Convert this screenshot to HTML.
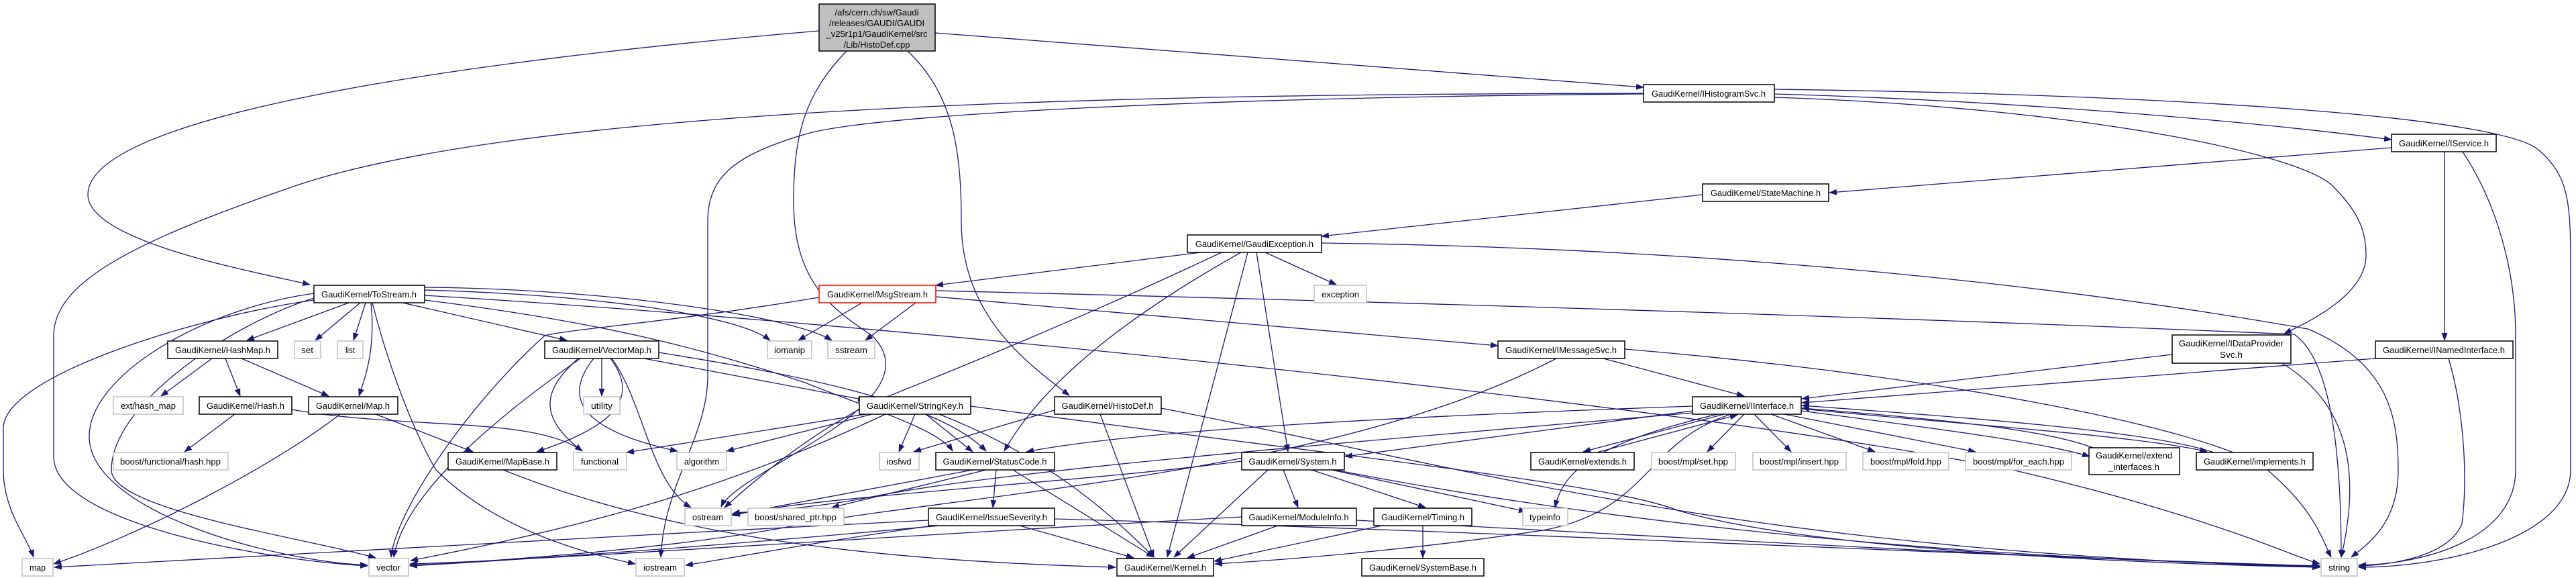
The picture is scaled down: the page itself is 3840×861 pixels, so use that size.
<!DOCTYPE html>
<html><head><meta charset="utf-8"><style>
html,body{margin:0;padding:0;background:#fff;}
svg{display:block;}
text{font-family:"Liberation Sans",sans-serif;font-size:13px;fill:#000;}
.e{fill:none;stroke:#191970;stroke-width:1.3;marker-end:url(#a);}
.n{fill:#fff;stroke:#000;stroke-width:1.5;}
.g{fill:#fff;stroke:#bfbfbf;stroke-width:1.5;}
</style></head><body>
<svg width="3840" height="861" viewBox="0 0 3840 861" xmlns="http://www.w3.org/2000/svg">
<defs><marker id="a" markerUnits="userSpaceOnUse" markerWidth="12" markerHeight="9" refX="11" refY="4.5" orient="auto"><path d="M0,0 L12,4.5 L0,9 z" fill="#191970"/></marker></defs>
<g>
<path class="e" d="M1221,46 C700,90 131,170 131,290 C131,360 380,405 462,424"/>
<path class="e" d="M1353,76 C1420,140 1433,220 1433,330 C1433,470 1530,540 1594,589"/>
<path class="e" d="M1394,49 L2450,130"/>
<path class="e" d="M1262,76 C1200,140 1183,200 1183,300 C1183,420 1240,460 1300,500 C1400,600 1100,700 1075,755"/>
<path class="e" d="M2450,139 C1800,140 800,150 431,280 C200,360 80,420 80,500 L80,680 C80,780 400,835 548,843"/>
<path class="e" d="M2450,140 C1800,145 1300,170 1200,200 C1100,230 1055,260 1055,330 L1055,560 C1055,650 990,720 985,830"/>
<path class="e" d="M2645,140 C3000,150 3350,180 3565,208"/>
<path class="e" d="M2645,133 C3200,140 3700,170 3780,220 C3830,260 3832,300 3832,400 L3832,700 C3832,800 3650,845 3516,845"/>
<path class="e" d="M2645,145 C3100,160 3440,230 3480,280 C3520,320 3527,350 3527,380 C3527,440 3440,480 3405,497"/>
<path class="e" d="M3565,220 L2727,287"/>
<path class="e" d="M3644,226 L3644,507"/>
<path class="e" d="M3671,226 C3720,300 3750,400 3750,500 L3750,700 C3750,800 3620,840 3516,842"/>
<path class="e" d="M3650,534 C3670,600 3680,700 3670,780 C3650,830 3560,842 3516,843"/>
<path class="e" d="M2538,290 L1970,352"/>
<path class="e" d="M1790,376 L1395,425"/>
<path class="e" d="M1886,376 L1992,424"/>
<path class="e" d="M1970,362 C2600,370 3100,430 3440,490 C3560,540 3575,620 3575,700 C3575,780 3530,810 3505,830"/>
<path class="e" d="M1850,376 C1700,460 1560,560 1497,672"/>
<path class="e" d="M1860,376 L1740,830"/>
<path class="e" d="M1873,376 L1920,673"/>
<path class="e" d="M1821,376 C1600,480 1400,560 1300,600 C1200,650 1120,720 1080,756"/>
<path class="e" d="M1395,433 C2300,455 3000,480 3420,498 C3480,540 3490,700 3490,830"/>
<path class="e" d="M1285,451 L1190,507"/>
<path class="e" d="M1365,451 L1290,507"/>
<path class="e" d="M1395,442 L2233,515"/>
<path class="e" d="M1221,443 C1000,480 850,490 812,500 C700,600 590,760 583,830"/>
<path class="e" d="M520,451 L368,507"/>
<path class="e" d="M537,451 L470,507"/>
<path class="e" d="M545,451 L527,507"/>
<path class="e" d="M553,451 C560,520 545,560 535,590"/>
<path class="e" d="M600,451 L845,507"/>
<path class="e" d="M633,432 C900,440 1100,470 1148,507"/>
<path class="e" d="M633,428 C900,430 1180,470 1240,507"/>
<path class="e" d="M468,447 C300,470 0,560 5,640 L5,700 C5,760 40,800 50,830"/>
<path class="e" d="M468,437 C300,460 133,560 133,650 C133,760 400,835 548,842"/>
<path class="e" d="M468,444 C350,480 166,600 166,700 C166,760 450,800 560,831"/>
<path class="e" d="M555,451 C580,550 620,650 650,700 C730,780 850,820 947,840"/>
<path class="e" d="M633,447 C900,480 1050,520 1200,570 C1300,610 1400,640 1420,672"/>
<path class="e" d="M633,440 C1300,480 2500,600 3000,700 C3300,770 3420,830 3458,840"/>
<path class="e" d="M316,534 L240,590"/>
<path class="e" d="M336,534 L358,590"/>
<path class="e" d="M360,534 L490,590"/>
<path class="e" d="M350,617 L275,673"/>
<path class="e" d="M435,610 C600,640 800,620 868,672"/>
<path class="e" d="M560,617 L705,673"/>
<path class="e" d="M507,617 C400,700 200,800 80,840"/>
<path class="e" d="M897,534 L897,590"/>
<path class="e" d="M862,534 C810,580 800,620 868,672"/>
<path class="e" d="M885,534 C840,590 860,640 1010,672"/>
<path class="e" d="M910,534 C960,600 900,640 800,673"/>
<path class="e" d="M865,534 C700,650 600,750 587,830"/>
<path class="e" d="M912,534 C960,600 970,720 1030,756"/>
<path class="e" d="M960,534 L1290,596"/>
<path class="e" d="M982,525 C1200,560 1400,600 1470,672"/>
<path class="e" d="M1290,617 L934,674"/>
<path class="e" d="M1300,617 L1083,672"/>
<path class="e" d="M1320,617 C1100,720 900,780 612,835"/>
<path class="e" d="M1364,617 L1340,673"/>
<path class="e" d="M1380,617 L1450,673"/>
<path class="e" d="M1400,617 C1560,680 1650,760 1720,830"/>
<path class="e" d="M1447,605 C2000,680 2400,720 2500,760 C2700,820 3200,840 3458,845"/>
<path class="e" d="M1575,610 L1362,673"/>
<path class="e" d="M1640,617 L1720,830"/>
<path class="e" d="M1731,608 C2200,700 2600,820 3458,845"/>
<path class="e" d="M2390,534 L2600,590"/>
<path class="e" d="M2422,520 C2900,560 3300,640 3380,700 C3450,760 3460,800 3475,830"/>
<path class="e" d="M2320,534 C2000,700 1500,730 1200,780 C1000,820 700,838 611,842"/>
<path class="e" d="M3238,528 L2686,594"/>
<path class="e" d="M3400,540 C3500,600 3520,700 3490,830"/>
<path class="e" d="M3541,534 L2686,600"/>
<path class="e" d="M2523,605 C2100,620 1700,640 1530,673"/>
<path class="e" d="M2523,612 L2005,680"/>
<path class="e" d="M2570,617 L2360,673"/>
<path class="e" d="M2380,674 L2590,618"/>
<path class="e" d="M2600,617 L2545,673"/>
<path class="e" d="M2615,617 L2670,673"/>
<path class="e" d="M2640,617 L2795,673"/>
<path class="e" d="M2660,617 L2945,673"/>
<path class="e" d="M2685,612 C2900,640 3050,660 3115,680"/>
<path class="e" d="M3120,667 C3050,640 2900,625 2686,608"/>
<path class="e" d="M3300,674 C3200,640 2900,620 2686,604"/>
<path class="e" d="M2686,609 C2900,630 3200,650 3290,673"/>
<path class="e" d="M2560,617 C2380,660 2330,700 2318,756"/>
<path class="e" d="M2523,615 C2000,660 1500,700 1300,740 C1200,760 1120,760 1092,765"/>
<path class="e" d="M2580,617 C2450,660 2460,760 2300,790 C2100,820 1900,835 1811,840"/>
<path class="e" d="M1450,700 L1091,767"/>
<path class="e" d="M1470,700 L1240,756"/>
<path class="e" d="M1485,700 L1480,756"/>
<path class="e" d="M1510,700 L1720,830"/>
<path class="e" d="M1913,700 L1935,756"/>
<path class="e" d="M1955,700 L2125,756"/>
<path class="e" d="M1890,700 L1750,830"/>
<path class="e" d="M1985,700 L2275,762"/>
<path class="e" d="M1990,700 C2300,760 2800,830 3458,843"/>
<path class="e" d="M1851,687 C1600,720 1200,740 1092,768"/>
<path class="e" d="M1520,783 L1690,831"/>
<path class="e" d="M1400,783 C1000,820 700,838 611,843"/>
<path class="e" d="M1384,775 C900,800 300,830 81,845"/>
<path class="e" d="M1572,773 C2200,790 3000,830 3458,843"/>
<path class="e" d="M1390,783 C1200,810 1100,830 1022,842"/>
<path class="e" d="M1905,783 L1770,831"/>
<path class="e" d="M1851,770 C1300,800 800,835 611,840"/>
<path class="e" d="M2022,775 C2500,800 3000,830 3458,844"/>
<path class="e" d="M2121,783 L2121,831"/>
<path class="e" d="M2060,783 L1810,836"/>
<path class="e" d="M750,700 C1000,800 1300,835 1663,845"/>
</g>
<g>
<rect x="1221" y="6" width="173" height="70" fill="#bfbfbf" stroke="#000" stroke-width="1.5"/>
<text x="1307" y="23" text-anchor="middle" font-size="12">/afs/cern.ch/sw/Gaudi</text>
<text x="1307" y="39" text-anchor="middle" font-size="12">/releases/GAUDI/GAUDI</text>
<text x="1307" y="55" text-anchor="middle" font-size="12">_v25r1p1/GaudiKernel/src</text>
<text x="1307" y="71" text-anchor="middle" font-size="12">/Lib/HistoDef.cpp</text>

<rect class="n" x="2450" y="126" width="195" height="26"/><text x="2547" y="144" text-anchor="middle" textLength="170" lengthAdjust="spacingAndGlyphs">GaudiKernel/IHistogramSvc.h</text>
<rect class="n" x="3565" y="200" width="156" height="26"/><text x="3643" y="218" text-anchor="middle" textLength="134" lengthAdjust="spacingAndGlyphs">GaudiKernel/IService.h</text>
<rect class="n" x="2538" y="274" width="188" height="26"/><text x="2632" y="292" text-anchor="middle" textLength="164" lengthAdjust="spacingAndGlyphs">GaudiKernel/StateMachine.h</text>
<rect class="n" x="1770" y="350" width="200" height="26"/><text x="1870" y="368" text-anchor="middle" textLength="176" lengthAdjust="spacingAndGlyphs">GaudiKernel/GaudiException.h</text>
<rect class="n" x="468" y="425" width="165" height="26"/><text x="550" y="443" text-anchor="middle" textLength="142" lengthAdjust="spacingAndGlyphs">GaudiKernel/ToStream.h</text>
<rect x="1221" y="425" width="174" height="26" fill="#fff" stroke="#ff0000" stroke-width="1.5"/><text x="1308" y="443" text-anchor="middle" textLength="150" lengthAdjust="spacingAndGlyphs">GaudiKernel/MsgStream.h</text>
<rect class="g" x="1959" y="425" width="78" height="26"/><text x="1998" y="443" text-anchor="middle" textLength="56" lengthAdjust="spacingAndGlyphs">exception</text>
<rect class="g" x="1144" y="508" width="66" height="26"/><text x="1177" y="526" text-anchor="middle" textLength="46" lengthAdjust="spacingAndGlyphs">iomanip</text>
<rect class="g" x="1234" y="508" width="70" height="26"/><text x="1269" y="526" text-anchor="middle" textLength="48" lengthAdjust="spacingAndGlyphs">sstream</text>
<rect class="n" x="250" y="508" width="164" height="26"/><text x="332" y="526" text-anchor="middle" textLength="142" lengthAdjust="spacingAndGlyphs">GaudiKernel/HashMap.h</text>
<rect class="g" x="439" y="508" width="39" height="26"/><text x="458" y="526" text-anchor="middle" textLength="18" lengthAdjust="spacingAndGlyphs">set</text>
<rect class="g" x="503" y="508" width="38" height="26"/><text x="522" y="526" text-anchor="middle" textLength="14" lengthAdjust="spacingAndGlyphs">list</text>
<rect class="n" x="812" y="508" width="170" height="26"/><text x="897" y="526" text-anchor="middle" textLength="148" lengthAdjust="spacingAndGlyphs">GaudiKernel/VectorMap.h</text>
<rect class="n" x="2233" y="508" width="189" height="26"/><text x="2327" y="526" text-anchor="middle" textLength="166" lengthAdjust="spacingAndGlyphs">GaudiKernel/IMessageSvc.h</text>
<rect class="n" x="3238" y="499" width="177" height="42"/><text x="3326" y="516" text-anchor="middle" textLength="156" lengthAdjust="spacingAndGlyphs">GaudiKernel/IDataProvider</text><text x="3326" y="533" text-anchor="middle" textLength="34" lengthAdjust="spacingAndGlyphs">Svc.h</text>
<rect class="n" x="3541" y="508" width="205" height="26"/><text x="3643" y="526" text-anchor="middle" textLength="182" lengthAdjust="spacingAndGlyphs">GaudiKernel/INamedInterface.h</text>
<rect class="g" x="169" y="591" width="104" height="26"/><text x="221" y="609" text-anchor="middle" textLength="82" lengthAdjust="spacingAndGlyphs">ext/hash_map</text>
<rect class="n" x="297" y="591" width="138" height="26"/><text x="366" y="609" text-anchor="middle" textLength="116" lengthAdjust="spacingAndGlyphs">GaudiKernel/Hash.h</text>
<rect class="n" x="460" y="591" width="133" height="26"/><text x="526" y="609" text-anchor="middle" textLength="110" lengthAdjust="spacingAndGlyphs">GaudiKernel/Map.h</text>
<rect class="g" x="870" y="591" width="54" height="26"/><text x="897" y="609" text-anchor="middle" textLength="32" lengthAdjust="spacingAndGlyphs">utility</text>
<rect class="n" x="1281" y="591" width="166" height="26"/><text x="1364" y="609" text-anchor="middle" textLength="144" lengthAdjust="spacingAndGlyphs">GaudiKernel/StringKey.h</text>
<rect class="n" x="1572" y="591" width="159" height="26"/><text x="1651" y="609" text-anchor="middle" textLength="137" lengthAdjust="spacingAndGlyphs">GaudiKernel/HistoDef.h</text>
<rect class="n" x="2523" y="591" width="162" height="26"/><text x="2604" y="609" text-anchor="middle" textLength="140" lengthAdjust="spacingAndGlyphs">GaudiKernel/IInterface.h</text>
<rect class="g" x="169" y="674" width="171" height="26"/><text x="254" y="692" text-anchor="middle" textLength="150" lengthAdjust="spacingAndGlyphs">boost/functional/hash.hpp</text>
<rect class="n" x="668" y="674" width="162" height="26"/><text x="749" y="692" text-anchor="middle" textLength="140" lengthAdjust="spacingAndGlyphs">GaudiKernel/MapBase.h</text>
<rect class="g" x="855" y="674" width="79" height="26"/><text x="894" y="692" text-anchor="middle" textLength="56" lengthAdjust="spacingAndGlyphs">functional</text>
<rect class="g" x="1009" y="674" width="74" height="26"/><text x="1046" y="692" text-anchor="middle" textLength="52" lengthAdjust="spacingAndGlyphs">algorithm</text>
<rect class="g" x="1311" y="674" width="59" height="26"/><text x="1340" y="692" text-anchor="middle" textLength="37" lengthAdjust="spacingAndGlyphs">iosfwd</text>
<rect class="n" x="1395" y="674" width="177" height="26"/><text x="1483" y="692" text-anchor="middle" textLength="155" lengthAdjust="spacingAndGlyphs">GaudiKernel/StatusCode.h</text>
<rect class="n" x="1851" y="674" width="153" height="26"/><text x="1927" y="692" text-anchor="middle" textLength="131" lengthAdjust="spacingAndGlyphs">GaudiKernel/System.h</text>
<rect class="n" x="2282" y="674" width="154" height="26"/><text x="2359" y="692" text-anchor="middle" textLength="132" lengthAdjust="spacingAndGlyphs">GaudiKernel/extends.h</text>
<rect class="g" x="2462" y="674" width="125" height="26"/><text x="2524" y="692" text-anchor="middle" textLength="104" lengthAdjust="spacingAndGlyphs">boost/mpl/set.hpp</text>
<rect class="g" x="2613" y="674" width="139" height="26"/><text x="2682" y="692" text-anchor="middle" textLength="118" lengthAdjust="spacingAndGlyphs">boost/mpl/insert.hpp</text>
<rect class="g" x="2777" y="674" width="128" height="26"/><text x="2841" y="692" text-anchor="middle" textLength="106" lengthAdjust="spacingAndGlyphs">boost/mpl/fold.hpp</text>
<rect class="g" x="2930" y="674" width="158" height="26"/><text x="3009" y="692" text-anchor="middle" textLength="136" lengthAdjust="spacingAndGlyphs">boost/mpl/for_each.hpp</text>
<rect class="n" x="3114" y="667" width="135" height="40"/><text x="3181" y="683" text-anchor="middle" textLength="114" lengthAdjust="spacingAndGlyphs">GaudiKernel/extend</text><text x="3181" y="700" text-anchor="middle" textLength="76" lengthAdjust="spacingAndGlyphs">_interfaces.h</text>
<rect class="n" x="3274" y="674" width="174" height="26"/><text x="3361" y="692" text-anchor="middle" textLength="152" lengthAdjust="spacingAndGlyphs">GaudiKernel/implements.h</text>
<rect class="g" x="1021" y="757" width="69" height="26"/><text x="1055" y="775" text-anchor="middle" textLength="46" lengthAdjust="spacingAndGlyphs">ostream</text>
<rect class="g" x="1115" y="757" width="143" height="26"/><text x="1186" y="775" text-anchor="middle" textLength="122" lengthAdjust="spacingAndGlyphs">boost/shared_ptr.hpp</text>
<rect class="n" x="1384" y="757" width="188" height="26"/><text x="1478" y="775" text-anchor="middle" textLength="166" lengthAdjust="spacingAndGlyphs">GaudiKernel/IssueSeverity.h</text>
<rect class="n" x="1851" y="757" width="171" height="26"/><text x="1936" y="775" text-anchor="middle" textLength="149" lengthAdjust="spacingAndGlyphs">GaudiKernel/ModuleInfo.h</text>
<rect class="n" x="2048" y="757" width="146" height="26"/><text x="2121" y="775" text-anchor="middle" textLength="124" lengthAdjust="spacingAndGlyphs">GaudiKernel/Timing.h</text>
<rect class="g" x="2270" y="757" width="67" height="26"/><text x="2303" y="775" text-anchor="middle" textLength="46" lengthAdjust="spacingAndGlyphs">typeinfo</text>
<rect class="g" x="33" y="832" width="46" height="26"/><text x="56" y="850" text-anchor="middle" textLength="24" lengthAdjust="spacingAndGlyphs">map</text>
<rect class="g" x="550" y="832" width="59" height="26"/><text x="579" y="850" text-anchor="middle" textLength="36" lengthAdjust="spacingAndGlyphs">vector</text>
<rect class="g" x="948" y="832" width="72" height="26"/><text x="984" y="850" text-anchor="middle" textLength="50" lengthAdjust="spacingAndGlyphs">iostream</text>
<rect class="n" x="1665" y="832" width="144" height="26"/><text x="1737" y="850" text-anchor="middle" textLength="122" lengthAdjust="spacingAndGlyphs">GaudiKernel/Kernel.h</text>
<rect class="n" x="2030" y="832" width="182" height="26"/><text x="2121" y="850" text-anchor="middle" textLength="160" lengthAdjust="spacingAndGlyphs">GaudiKernel/SystemBase.h</text>
<rect class="g" x="3460" y="832" width="54" height="26"/><text x="3487" y="850" text-anchor="middle" textLength="32" lengthAdjust="spacingAndGlyphs">string</text>
</g>
</svg>
</body></html>
